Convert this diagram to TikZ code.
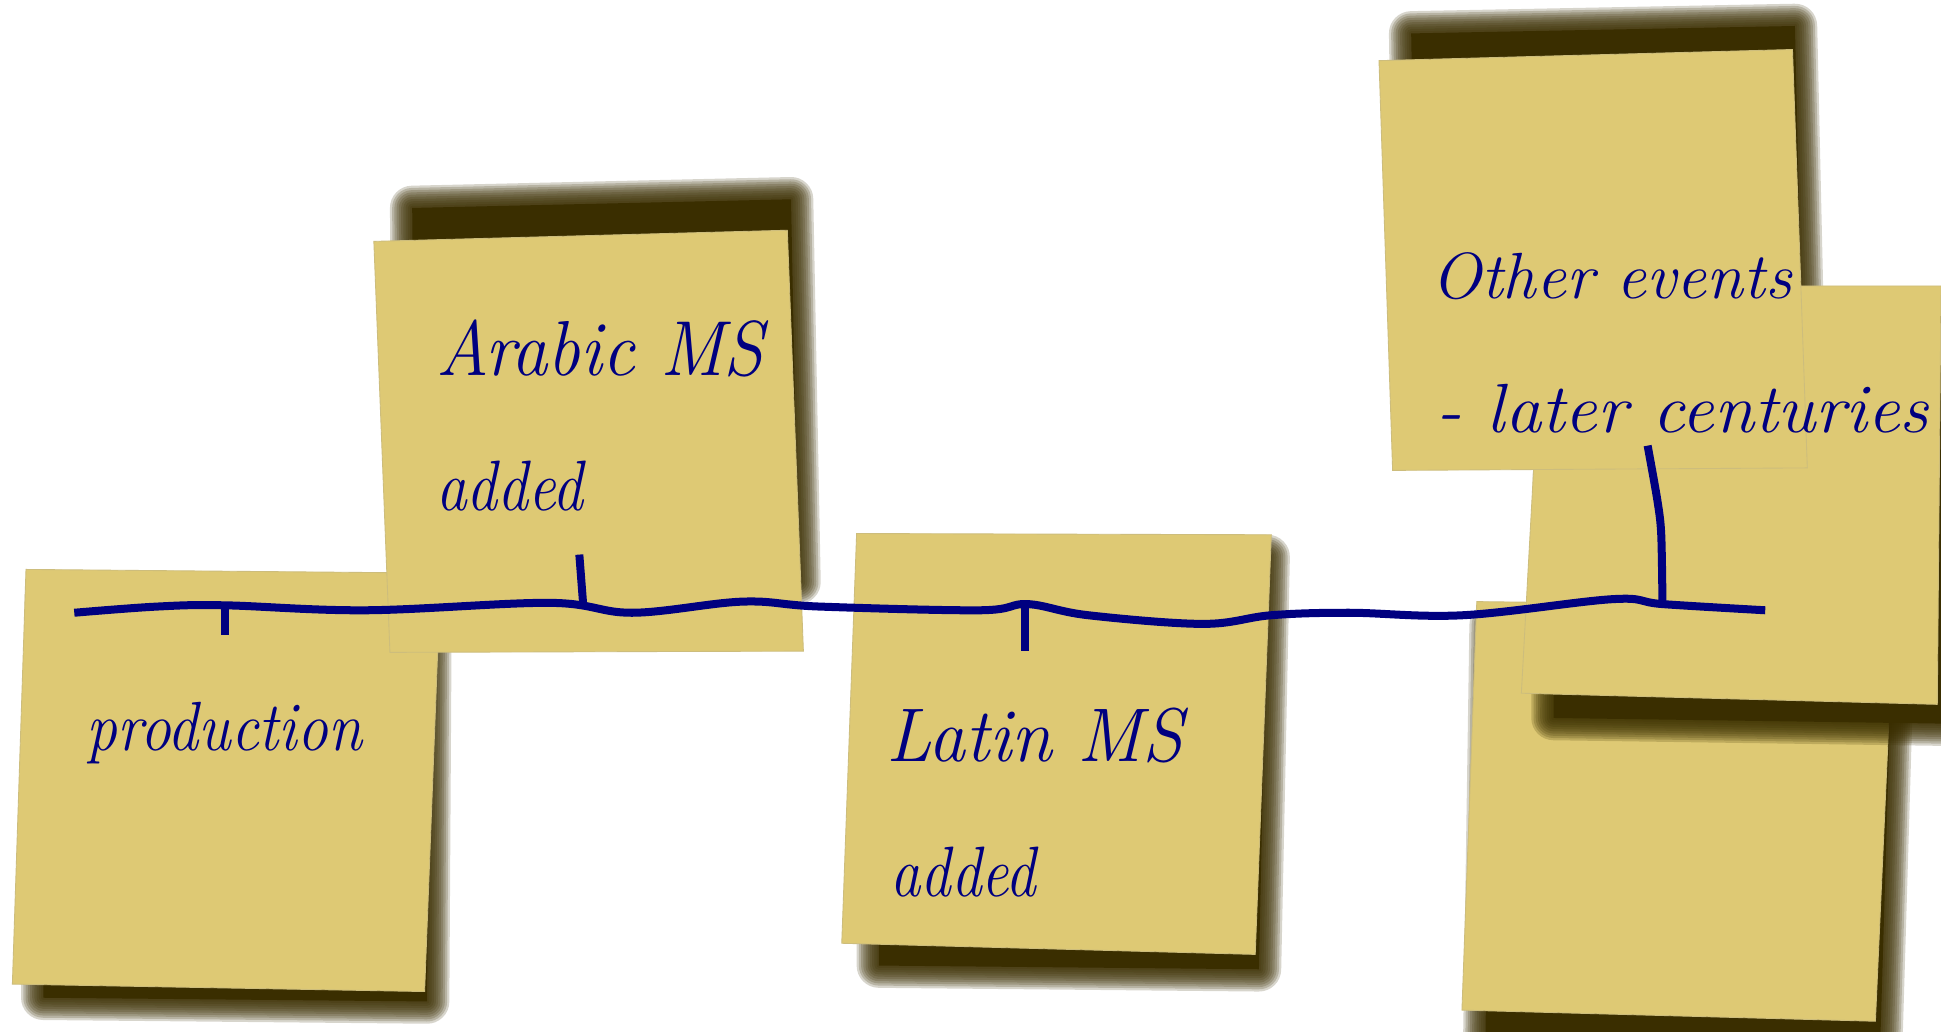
\documentclass[tikz,border=0pt]{standalone}
\usepackage{tikz}
\usepackage{xcolor}

\definecolor{notefill}{RGB}{222,201,116}
\definecolor{noteedge}{RGB}{205,189,124}
\definecolor{shadowcol}{RGB}{58,46,0}
\definecolor{inkblue}{RGB}{0,0,128}

\begin{document}
\begin{tikzpicture}[x=0.025cm, y=-0.025cm,
note/.style={fill=notefill, draw=noteedge, line width=0.5pt},
noteshadow/.style={fill=shadowcol, draw=shadowcol, line join=round},
ink/.style={draw=inkblue, line width=4.6pt, line join=round},
scribble/.style={text=inkblue, anchor=base west, inner sep=0pt,
  font=\fontsize{#1}{#1}\selectfont\itshape},
scribble/.default=40]

\useasboundingbox (0,0) rectangle (1568,833);
\fill[white] (0,0) rectangle (1568,833);
\clip (0,0) rectangle (1568,833);

% Left notes
\foreach \w in {3.6,7.2,...,36}{
\begin{scope}[transparency group, opacity=0.2]
\filldraw[noteshadow, line width=\w*0.025cm]
  (38,480) -- (347,482) -- (345,809) -- (35,806) -- cycle;
\end{scope}
}
\fill[shadowcol] (38,480) -- (347,482) -- (345,809) -- (35,806) -- cycle;
\filldraw[note] (21,460) -- (356,463) -- (343,801) -- (10,795) -- cycle;

\foreach \w in {3.6,7.2,...,36}{
\begin{scope}[transparency group, opacity=0.2]
\filldraw[noteshadow, line width=\w*0.025cm]
  (333,168) -- (639,161) -- (645,470) -- (335,475) -- cycle;
\end{scope}
}
\fill[shadowcol] (333,168) -- (639,161) -- (645,470) -- (335,475) -- cycle;
\filldraw[note] (302,195) -- (636,186) -- (649,526) -- (315,527) -- cycle;

% Middle note
\foreach \w in {3.6,7.2,...,36}{
\begin{scope}[transparency group, opacity=0.2]
\filldraw[noteshadow, line width=\w*0.025cm]
  (710,450) -- (1024,450) -- (1017,783) -- (710,780) -- cycle;
\end{scope}
}
\fill[shadowcol] (710,450) -- (1024,450) -- (1017,783) -- (710,780) -- cycle;
\filldraw[note] (692,431) -- (1027,432) -- (1014,771) -- (680,762) -- cycle;

% Right stack
\foreach \w in {3.6,7.2,...,36}{
\begin{scope}[transparency group, opacity=0.2]
\filldraw[noteshadow, line width=\w*0.025cm]
  (1205,505) -- (1529,505) -- (1519,840) -- (1200,835) -- cycle;
\end{scope}
}
\fill[shadowcol] (1205,505) -- (1529,505) -- (1519,840) -- (1200,835) -- cycle;
\filldraw[note] (1193,486) -- (1530,490) -- (1515,825) -- (1181,816) -- cycle;

\foreach \w in {3.6,7.2,...,36}{
\begin{scope}[transparency group, opacity=0.2]
\filldraw[noteshadow, line width=\w*0.025cm]
  (1140,27) -- (1450,21) -- (1457,330) -- (1145,330) -- cycle;
\end{scope}
}
\fill[shadowcol] (1140,27) -- (1450,21) -- (1457,330) -- (1145,330) -- cycle;

\foreach \w in {3.6,7.2,...,36}{
\begin{scope}[transparency group, opacity=0.2]
\filldraw[noteshadow, line width=\w*0.025cm]
  (1257,250) -- (1600,250) -- (1600,585) -- (1255,580) -- cycle;
\end{scope}
}
\fill[shadowcol] (1257,250) -- (1600,250) -- (1600,585) -- (1255,580) -- cycle;
\filldraw[note] (1247,231) -- (1568,231) -- (1565,569) -- (1229,560) -- cycle;

\filldraw[note] (1114,49) -- (1448,40) -- (1460,378) -- (1125,380) -- cycle;

% Timeline
\draw[ink] plot[smooth, tension=0.6] coordinates {
  (60,495) (127,490) (182,489) (296,493) (444,487) (511,495) (600,486)
  (662,490) (792,493) (830,488) (879,497) (972,504) (1027,497) (1090,495)
  (1182,497) (1303,484) (1343,488) (1426,493)};

\coordinate (production) at (182,489);
\coordinate (arabic) at (471,487);
\coordinate (latin) at (828,489);
\coordinate (later) at (1343,488);

\draw[ink] (production) -- ++(0,24);
\draw[ink] (arabic) -- (468,448);
\draw[ink] (latin) -- ++(0,37);
\draw[ink] plot[smooth, tension=0.5] coordinates {
  (later) (1342,432) (1339,405) (1331,360)};

% Labels
\node[scribble=40] (prodtext) at (70,606) {\scalebox{0.885}[1]{production}};
\node[scribble=44.8] (arabictext) at (352,303) {\scalebox{0.93}[1]{Arabic MS}};
\node[scribble=41] (arabicadded) at (352,412) {\scalebox{0.86}[1]{added}};
\node[scribble=43.7] (latintext) at (716,615) {\scalebox{0.97}[1]{Latin MS}};
\node[scribble=41] (latinadded) at (719,724) {\scalebox{0.85}[1]{added}};
\node[scribble=37.5] (othertext) at (1156,241) {\scalebox{1.02}[1]{Other events}};
\node[scribble=40] (latertext) at (1160,349) {\scalebox{1.04}[1]{- later centuries}};

\end{tikzpicture}
\end{document}
